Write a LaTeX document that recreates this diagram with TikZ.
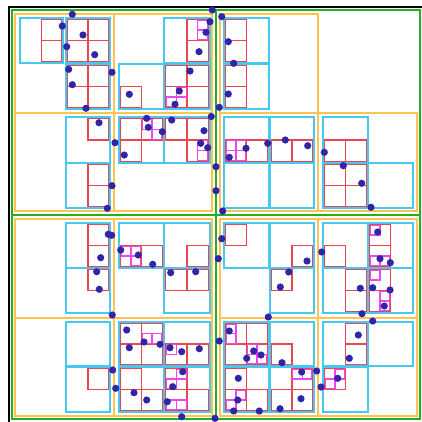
\documentclass[tikz,border=0pt]{standalone}
\usepackage{xcolor}
\usepackage{tikz}
\definecolor{qgreen}{RGB}{34,176,34}
\definecolor{qorange}{RGB}{255,196,80}
\definecolor{qcyan}{RGB}{70,200,240}
\definecolor{qred}{RGB}{232,70,80}
\definecolor{qmag}{RGB}{240,70,240}
\definecolor{qdot}{RGB}{48,36,168}
\def\cxa{{20,66,119,164,224,270,323,368}}
\def\cxb{{63,110,164,210,269,314,368,413}}
\def\cya{{18,64,117,163,223,268,322,367}}
\def\cyb{{63,109,163,208,268,313,366,412}}
\newcommand{\halfint}[4]{%
  \pgfmathsetmacro\qlo{#3==0 ? #1+#4 : (#1+#2)/2}%
  \pgfmathsetmacro\qhi{#3==0 ? (#1+#2)/2 : #2-#4}}

\begin{document}
\begin{tikzpicture}[x=0.5mm, y=-0.5mm,
  outer/.style={draw=black, line width=2.8pt},
  greenbox/.style={draw=qgreen, line width=3.5pt},
  orangebox/.style={draw=qorange, line width=2pt},
  cyanbox/.style={draw=qcyan, line width=2pt},
  redbox/.style={draw=qred, line width=1.6pt},
  magbox/.style={draw=qmag, line width=1.6pt},
  pt/.style={fill=qdot}]
\useasboundingbox (0,0) rectangle (422,421);
\draw[outer] (9,7) rectangle (440,440);
\foreach \xa/\ya/\xb/\yb in {12/10/216/215, 216/10/420/215, 12/215/216/419, 216/215/420/419}
  \draw[greenbox] (\xa,\ya) rectangle (\xb,\yb);
\foreach \xa/\ya/\xb/\yb in {15/14/114/113, 114/14/212/113, 15/113/114/211, 114/113/212/211,
  220/14/318/113, 220/113/318/211, 318/113/417/211,
  15/219/114/318, 114/219/212/318, 15/318/114/416, 114/318/212/416,
  220/219/318/318, 318/219/417/318, 220/318/318/416, 318/318/417/416}
  \draw[orangebox] (\xa,\ya) rectangle (\xb,\yb);
\foreach \c/\r in {0/0, 1/0, 1/1, 2/1, 3/0, 3/1, 1/2, 1/3, 2/2, 3/2,
  4/0, 4/1, 4/2, 5/2, 4/3, 5/3, 6/2, 6/3, 7/3,
  1/4, 1/5, 2/4, 3/4, 3/5, 1/6, 1/7, 2/6, 3/6, 2/7, 3/7,
  4/4, 5/4, 5/5, 6/4, 7/4, 6/5, 7/5, 4/6, 5/6, 4/7, 5/7, 6/6, 7/6, 6/7}{
  \pgfmathsetmacro\ax{\cxa[\c]}\pgfmathsetmacro\bx{\cxb[\c]}
  \pgfmathsetmacro\ay{\cya[\r]}\pgfmathsetmacro\by{\cyb[\r]}
  \draw[cyanbox] (\ax,\ay) rectangle (\bx,\by);
}
\foreach \c/\r/\i/\j in {0/0/1/0, 0/0/1/1, 1/0/0/0, 1/0/1/0, 1/0/0/1, 1/0/1/1,
  1/1/0/0, 1/1/1/0, 1/1/0/1, 1/1/1/1, 3/0/1/0, 3/0/1/1, 2/1/0/1,
  3/1/0/0, 3/1/1/0, 3/1/0/1, 3/1/1/1, 1/2/1/0, 1/3/1/0, 1/3/1/1,
  2/2/0/0, 2/2/1/0, 2/2/0/1, 3/2/0/0, 3/2/1/0, 3/2/1/1,
  4/0/0/0, 4/0/0/1, 4/1/0/0, 4/1/0/1, 4/2/0/1, 4/2/1/1, 5/2/0/1, 5/2/1/1,
  6/2/0/1, 6/2/1/1, 6/3/0/0, 6/3/1/0, 6/3/0/1, 6/3/1/1,
  1/4/1/0, 1/4/1/1, 1/5/1/0, 2/4/0/1, 2/4/1/1, 3/4/1/1, 3/5/0/0, 3/5/1/0,
  1/7/1/0, 2/6/0/0, 2/6/1/0, 2/6/0/1, 2/6/1/1, 3/6/0/1, 3/6/1/1,
  2/7/0/0, 2/7/0/1, 2/7/1/1, 3/7/0/0, 3/7/0/1, 3/7/1/1,
  4/4/0/0, 5/4/1/1, 5/5/0/0, 6/4/0/1, 7/4/0/0, 7/4/0/1, 6/5/1/0, 6/5/1/1,
  7/5/0/0, 7/5/0/1, 4/6/0/0, 4/6/1/0, 4/6/0/1, 4/6/1/1, 5/6/0/1,
  4/7/0/0, 4/7/0/1, 4/7/1/1, 5/7/1/0, 5/7/0/1, 5/7/1/1, 6/6/1/0, 6/6/1/1, 6/7/0/0}{
  \pgfmathsetmacro\ax{\cxa[\c]}\pgfmathsetmacro\bx{\cxb[\c]}
  \pgfmathsetmacro\ay{\cya[\r]}\pgfmathsetmacro\by{\cyb[\r]}
  \halfint{\ax}{\bx}{\i}{1.5}\let\rxa\qlo\let\rxb\qhi
  \halfint{\ay}{\by}{\j}{1.5}
  \draw[redbox] (\rxa,\qlo) rectangle (\rxb,\qhi);
}
\foreach \c/\r/\i/\j/\k/\l in {3/0/1/0/1/0, 3/0/1/0/1/1, 3/1/0/1/1/0, 3/1/0/1/0/1,
  2/2/1/0/0/0, 2/2/1/0/1/1, 3/2/1/1/1/0, 3/2/1/1/1/1,
  4/2/0/1/0/0, 4/2/0/1/1/0, 4/2/0/1/0/1, 4/2/0/1/1/1,
  2/4/0/1/0/0, 2/4/0/1/1/0, 2/4/0/1/1/1, 2/6/1/0/0/1, 2/6/1/0/1/1, 3/6/0/1/0/0,
  3/7/0/0/1/0, 3/7/0/0/0/1, 3/7/0/1/0/1, 3/7/0/1/1/1,
  7/4/0/0/0/0, 7/4/0/1/0/1, 7/4/0/1/1/1, 7/5/0/0/0/0, 7/5/0/1/1/0, 7/5/0/1/1/1,
  4/6/0/0/0/0, 4/6/0/0/0/1, 4/6/1/1/0/0, 4/6/1/1/0/1, 4/6/1/1/1/1,
  4/7/0/1/1/0, 4/7/0/1/0/1, 5/7/1/0/0/0, 5/7/1/0/1/0, 6/7/0/0/1/0, 6/7/0/0/0/1}{
  \pgfmathsetmacro\ax{\cxa[\c]}\pgfmathsetmacro\bx{\cxb[\c]}
  \pgfmathsetmacro\ay{\cya[\r]}\pgfmathsetmacro\by{\cyb[\r]}
  \halfint{\ax}{\bx}{\i}{1.5}\let\rxa\qlo\let\rxb\qhi
  \halfint{\rxa}{\rxb}{\k}{0.8}\let\mxa\qlo\let\mxb\qhi
  \halfint{\ay}{\by}{\j}{1.5}\let\rya\qlo\let\ryb\qhi
  \halfint{\rya}{\ryb}{\l}{0.8}
  \draw[magbox] (\mxa,\qlo) rectangle (\mxb,\qhi);
}
\foreach \x/\y in {72.3/14.3, 62.3/26, 83/35, 66.7/46.7, 94.7/54.7, 68.7/69.3, 112/72.3,
  72.3/84.7, 86/108.3, 210/21.7, 206/32.3, 199/51.7, 129.3/94.3, 190/71, 179.3/91, 175/104.3,
  99/122.7, 115/142.7, 112/185.7, 107.3/208.3, 146.7/118.3, 148.3/127.3, 162.3/131.7,
  124.3/155, 171.7/120, 204/130.7, 200.7/143.3, 207.7/147.7, 211.3/116.5,
  216/166.7, 216/190.7, 212.3/10,
  221.7/16.7, 228.3/41.7, 233.7/63.3, 228.3/94, 219.3/107.3, 246/148.3, 229.3/157.3,
  267.7/143.3, 285.3/140, 307.7/145.7, 222.7/211, 324.3/152.3, 343.3/165.7, 361.7/183.3, 371/207.3,
  108.3/234.3, 111.7/235.3, 100.7/257.7, 96.7/271.7, 99.3/289.3, 112.3/315,
  120.7/250, 138.3/255, 152.7/264.3, 170.7/272.7, 195.7/271.7, 112.7/370, 115.7/388.3,
  126.7/330, 129.3/347.7, 144/342, 160/344.3, 170/347.7, 181.7/351.7, 199.3/348.7,
  182.7/371.7, 172.7/386.7, 134/392.7, 146.7/400, 167.3/401.7, 181.7/416.7,
  221.7/238.7, 218.3/258.7, 307/261, 288.7/272, 280.3/287, 268.3/317,
  321.7/252, 377.7/232, 380/258.7, 390.3/262.7, 360.3/288.3, 372.7/287.7, 390/290,
  384.3/306, 362/313.7, 372.7/321,
  229.3/331, 253.7/351, 261/355, 246.7/358.3, 282/362.7, 219.3/341, 238.3/378.3,
  237.7/400, 233.7/411, 259.3/411, 280/408.7, 301/398.7, 301.7/372, 316.7/371, 321/387, 215/418.3,
  358.3/335, 349.3/358.3, 337.7/378.3}
  \fill[pt] (\x,\y) circle (1.8mm);
\end{tikzpicture}
\end{document}
